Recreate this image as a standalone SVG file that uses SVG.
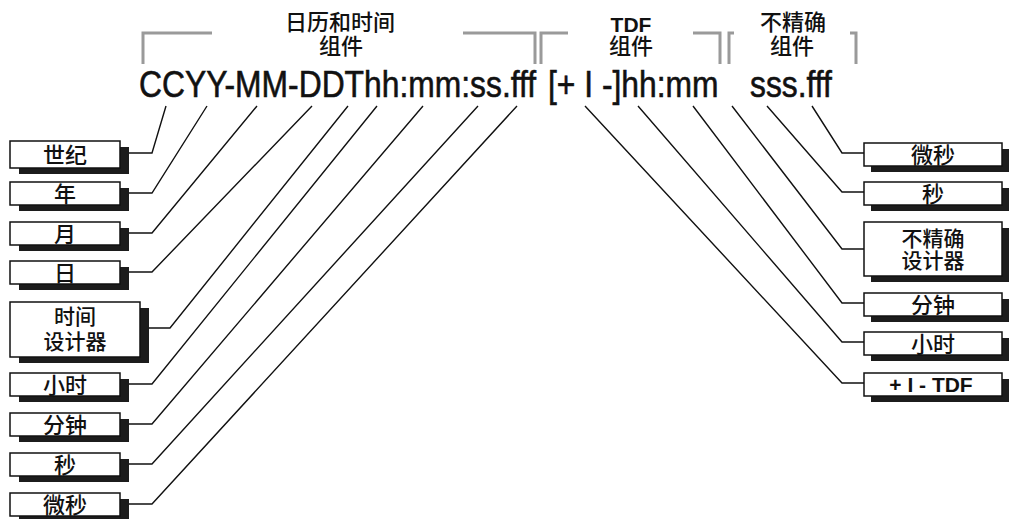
<svg xmlns="http://www.w3.org/2000/svg" width="1011" height="519" viewBox="0 0 1011 519">
  <style>
    .box { fill: #ffffff; stroke: #111111; stroke-width: 1.5; }
    .shadow { fill: #1c1c1c; }
    .lbl { font-family: "Noto Sans CJK SC", "Liberation Sans", sans-serif; font-size: 22px; font-weight: 500; fill: #111111; text-anchor: middle; }
    .lbl2 { font-family: "Noto Sans CJK SC", "Liberation Sans", sans-serif; font-size: 21px; font-weight: 500; fill: #111111; text-anchor: middle; }
    .lbl-b { font-family: "Liberation Sans", Arial, sans-serif; font-size: 21px; font-weight: bold; fill: #111111; text-anchor: middle; }
    .hdr { font-family: "Noto Sans CJK SC", "Liberation Sans", sans-serif; font-size: 22px; font-weight: 500; fill: #111111; text-anchor: middle; }
    .latin-b { font-family: "Liberation Sans", Arial, sans-serif; font-size: 21px; font-weight: bold; }
    .fmt { font-family: "Liberation Sans", Arial, sans-serif; font-size: 37px; fill: #111111; stroke: #111111; stroke-width: 0.6; }
    .brk { fill: none; stroke: #9a9a9a; stroke-width: 3; }
    .conn { fill: none; stroke: #111111; stroke-width: 1.4; }
  </style>

  <!-- format string, horizontally condensed -->
  <g id="format">
    <text class="fmt" transform="translate(139,97) scale(0.86,1)" x="0" y="0">CCYY-MM-DDThh:mm:ss.fff</text>
    <text class="fmt" transform="translate(548,97) scale(0.86,1)" x="0" y="0">[+ I -]hh:mm</text>
    <text class="fmt" transform="translate(750,97) scale(0.86,1)" x="0" y="0">sss.fff</text>
  </g>

  <!-- component brackets and headings -->
  <g id="bracket-calendar">
    <path class="brk" d="M143,64 V33 H212 M463,33 H535 V64"/>
    <text class="hdr" x="340" y="30">日历和时间<tspan x="341" dy="24">组件</tspan></text>
  </g>
  <g id="bracket-tdf">
    <path class="brk" d="M541,64 V33 H568 M693,33 H720 V64"/>
    <text class="hdr" x="631" y="32"><tspan class="latin-b">TDF</tspan><tspan x="631" dy="22">组件</tspan></text>
  </g>
  <g id="bracket-imprecise">
    <path class="brk" d="M729,64 V33 H734 M850,33 H856 V64"/>
    <text class="hdr" x="793" y="30">不精确<tspan x="792" dy="24">组件</tspan></text>
  </g>

  <!-- connectors -->
  <g id="connectors">
    <polyline class="conn" points="129,153 152,153 166,106"/>
    <polyline class="conn" points="129,193 152,193 207,106"/>
    <polyline class="conn" points="129,233 152,233 257,106"/>
    <polyline class="conn" points="129,272 152,272 312,106"/>
    <polyline class="conn" points="149,328 170,328 348,106"/>
    <polyline class="conn" points="129,384 152,384 377,106"/>
    <polyline class="conn" points="129,424 152,424 423,106"/>
    <polyline class="conn" points="129,464 152,464 478,106"/>
    <polyline class="conn" points="129,504 152,504 517,106"/>

    <polyline class="conn" points="864,153 842,153 812,106"/>
    <polyline class="conn" points="864,192 842,192 767,106"/>
    <polyline class="conn" points="864,249 842,249 732,106"/>
    <polyline class="conn" points="864,303 842,303 693,106"/>
    <polyline class="conn" points="864,342 842,342 638,106"/>
    <polyline class="conn" points="864,383 842,383 585,106"/>
  </g>

  <!-- left labels -->
  <g id="century">
    <rect class="shadow" x="19" y="147" width="110" height="27"/>
    <rect class="box" x="10" y="141" width="110" height="27"/>
    <text class="lbl" x="65" y="163">世纪</text>
  </g>
  <g id="year">
    <rect class="shadow" x="19" y="188" width="110" height="23"/>
    <rect class="box" x="10" y="182" width="110" height="23"/>
    <text class="lbl" x="65" y="202">年</text>
  </g>
  <g id="month">
    <rect class="shadow" x="19" y="228" width="110" height="23"/>
    <rect class="box" x="10" y="222" width="110" height="23"/>
    <text class="lbl" x="65" y="242">月</text>
  </g>
  <g id="day">
    <rect class="shadow" x="19" y="267" width="110" height="23"/>
    <rect class="box" x="10" y="261" width="110" height="23"/>
    <text class="lbl" x="65" y="281">日</text>
  </g>
  <g id="time-designator">
    <rect class="shadow" x="19" y="308" width="130" height="55"/>
    <rect class="box" x="10" y="302" width="130" height="55"/>
    <text class="lbl2" x="75" y="324">时间<tspan x="75" dy="25">设计器</tspan></text>
  </g>
  <g id="hour-left">
    <rect class="shadow" x="19" y="379" width="110" height="23"/>
    <rect class="box" x="10" y="373" width="110" height="23"/>
    <text class="lbl" x="65" y="393">小时</text>
  </g>
  <g id="minute-left">
    <rect class="shadow" x="19" y="419" width="110" height="23"/>
    <rect class="box" x="10" y="413" width="110" height="23"/>
    <text class="lbl" x="65" y="433">分钟</text>
  </g>
  <g id="second-left">
    <rect class="shadow" x="19" y="459" width="110" height="23"/>
    <rect class="box" x="10" y="453" width="110" height="23"/>
    <text class="lbl" x="65" y="473">秒</text>
  </g>
  <g id="microsecond-left">
    <rect class="shadow" x="19" y="499" width="110" height="23"/>
    <rect class="box" x="10" y="493" width="110" height="23"/>
    <text class="lbl" x="65" y="513">微秒</text>
  </g>

  <!-- right labels -->
  <g id="microsecond-right">
    <rect class="shadow" x="871" y="149" width="138" height="23"/>
    <rect class="box" x="864" y="143" width="138" height="23"/>
    <text class="lbl" x="933" y="163">微秒</text>
  </g>
  <g id="second-right">
    <rect class="shadow" x="871" y="188" width="138" height="23"/>
    <rect class="box" x="864" y="182" width="138" height="23"/>
    <text class="lbl" x="933" y="202">秒</text>
  </g>
  <g id="imprecise-designator">
    <rect class="shadow" x="871" y="228" width="138" height="54"/>
    <rect class="box" x="864" y="222" width="138" height="54"/>
    <text class="lbl2" x="933" y="246">不精确<tspan x="933" dy="22">设计器</tspan></text>
  </g>
  <g id="minute-right">
    <rect class="shadow" x="871" y="299" width="138" height="23"/>
    <rect class="box" x="864" y="293" width="138" height="23"/>
    <text class="lbl" x="933" y="313">分钟</text>
  </g>
  <g id="hour-right">
    <rect class="shadow" x="871" y="338" width="138" height="23"/>
    <rect class="box" x="864" y="332" width="138" height="23"/>
    <text class="lbl" x="933" y="352">小时</text>
  </g>
  <g id="tdf-sign">
    <rect class="shadow" x="871" y="379" width="138" height="23"/>
    <rect class="box" x="864" y="373" width="138" height="23"/>
    <text class="lbl-b" x="931" y="392">+ I - TDF</text>
  </g>
</svg>
